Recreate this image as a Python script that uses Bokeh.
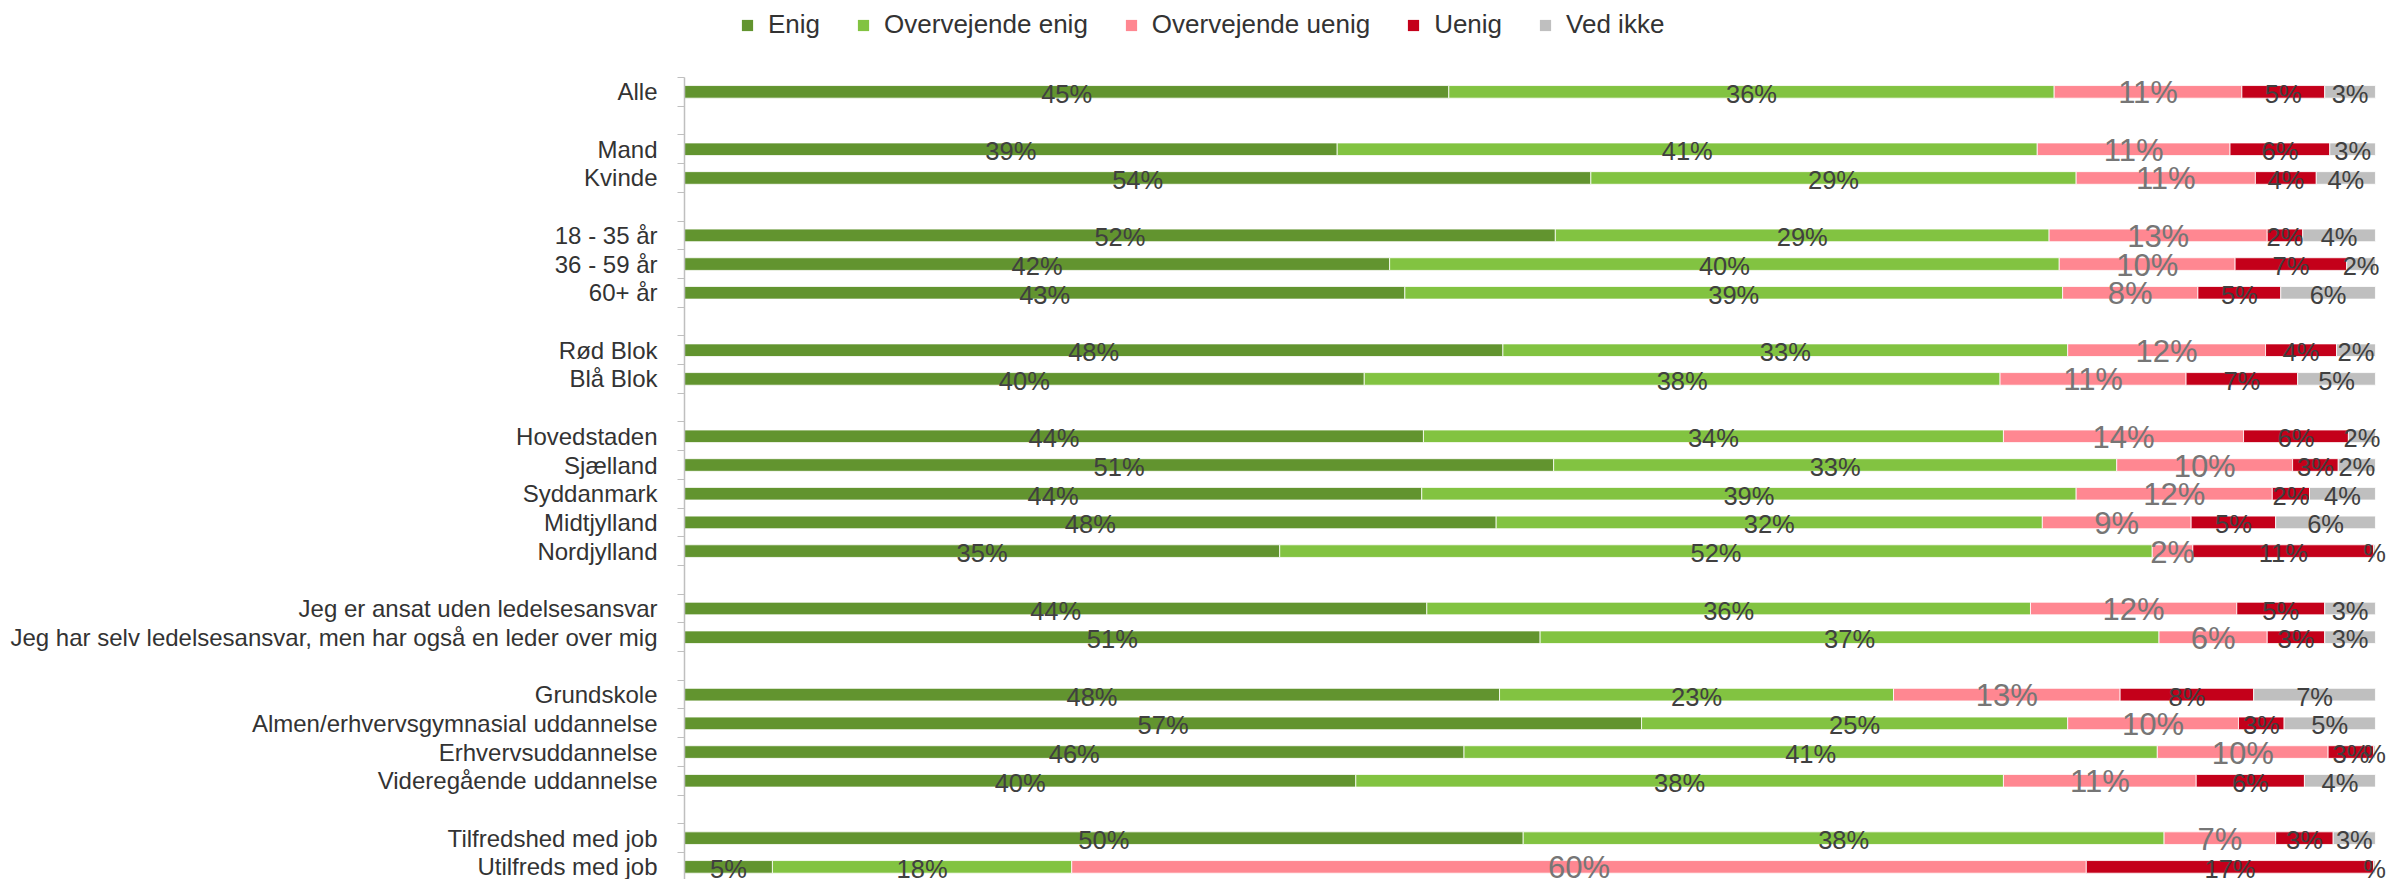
from bokeh.plotting import figure
from bokeh.layouts import column
from bokeh.models import Range1d, FixedTicker, Legend, LegendItem, ColumnDataSource
from bokeh.embed import file_html
from bokeh.resources import INLINE
from bokeh.core.properties import value

# ---------------- data ----------------
categories = [
    "Alle",
    "Mand", "Kvinde",
    "18 - 35 år", "36 - 59 år", "60+ år",
    "Rød Blok", "Blå Blok",
    "Hovedstaden", "Sjælland", "Syddanmark", "Midtjylland", "Nordjylland",
    "Jeg er ansat uden ledelsesansvar",
    "Jeg har selv ledelsesansvar, men har også en leder over mig",
    "Grundskole", "Almen/erhvervsgymnasial uddannelse", "Erhvervsuddannelse",
    "Videregående uddannelse",
    "Tilfredshed med job", "Utilfreds med job",
]
group_sizes = [1, 2, 3, 2, 5, 2, 4, 2]

series_names = ["Enig", "Overvejende enig", "Overvejende uenig", "Uenig", "Ved ikke"]

enig = [45.2, 38.6, 53.6, 51.5, 41.7, 42.6, 48.4, 40.2, 43.7, 51.4, 43.6, 48.0, 35.2,
        43.9, 50.6, 48.2, 56.6, 46.1, 39.7, 49.6, 5.2]
overvejende_enig = [35.8, 41.4, 28.7, 29.2, 39.6, 38.9, 33.4, 37.6, 34.3, 33.3, 38.7, 32.3, 51.6,
                    35.7, 36.6, 23.3, 25.2, 41.0, 38.3, 37.9, 17.7]
overvejende_uenig = [11.1, 11.4, 10.6, 12.9, 10.4, 8.0, 11.7, 11.0, 14.2, 10.4, 11.6, 8.8, 2.4,
                     12.2, 6.4, 13.4, 10.1, 10.1, 11.4, 6.6, 60.0]
uenig = [4.9, 5.9, 3.6, 2.1, 6.6, 4.9, 4.2, 6.6, 6.2, 2.7, 2.2, 5.0, 10.7,
         5.2, 3.4, 7.9, 2.7, 2.7, 6.4, 3.4, 17.0]
ved_ikke = [3.0, 2.7, 3.5, 4.3, 1.7, 5.6, 2.3, 4.6, 1.6, 2.2, 3.9, 5.9, 0.1,
            3.0, 3.0, 7.2, 5.4, 0.1, 4.2, 2.5, 0.1]

series_values = [enig, overvejende_enig, overvejende_uenig, uenig, ved_ikke]
colors = ["#62942f", "#82c341", "#ff8791", "#c4001a", "#bfbfbf"]

FONT = "Liberation Sans"

# ---------------- slot positions (one blank slot between groups) ----------------
ypos = []
s = 0
for g in group_sizes:
    for _ in range(g):
        ypos.append(s)
        s += 1
    s += 1
n_slots = s - 1

W = 2390
LEG_H = 77
MAIN_H = 879 - LEG_H
LEFT = 684

p = figure(
    width=W, height=MAIN_H,
    x_range=Range1d(0, 100.89),
    y_range=Range1d(27.44, -0.5),
    output_backend="svg", toolbar_location=None,
    x_axis_location=None,
    min_border_left=LEFT, min_border_right=0, min_border_top=0, min_border_bottom=0,
    outline_line_color=None,
)
p.grid.visible = False

def fmt(v):
    r = int(v + 0.5)
    return ("%d%%" % r) if r != 0 else "%"

sources = []
left = [0.0] * len(categories)
norm_x, norm_y, norm_t = [], [], []
ou_x, ou_y, ou_t = [], [], []
for j, vals in enumerate(series_values):
    right = [l + v for l, v in zip(left, vals)]
    src = ColumnDataSource(dict(y=ypos, left=left, right=right))
    sources.append(src)
    p.hbar(y="y", left="left", right="right", height=0.44, source=src,
           fill_color=colors[j], line_color="white", line_width=0.8)
    for l, rr, yy, v in zip(left, right, ypos, vals):
        if j == 2:
            ou_x.append((l + rr) / 2); ou_y.append(yy); ou_t.append(fmt(v))
        else:
            norm_x.append((l + rr) / 2); norm_y.append(yy); norm_t.append(fmt(v))
    left = right

p.text(x=norm_x, y=norm_y, text=norm_t, text_align="center", text_baseline="middle",
       text_font=value(FONT), text_font_size="25.5px", text_color="#404040", y_offset=2)
p.text(x=ou_x, y=ou_y, text=ou_t, text_align="center", text_baseline="middle",
       text_font=value(FONT), text_font_size="31px", text_color="#767676", y_offset=1)

# ---------------- axis ----------------
ax = p.yaxis[0]
ax.ticker = FixedTicker(ticks=ypos, minor_ticks=[b - 0.5 for b in range(n_slots + 1)])
ax.major_label_overrides = {y: c for y, c in zip(ypos, categories)}
ax.major_tick_out = 0
ax.major_tick_in = 0
ax.minor_tick_out = 7
ax.minor_tick_in = 0
ax.minor_tick_line_color = "#bfbfbf"
ax.axis_line_color = "#bfbfbf"
ax.axis_line_width = 1.5
ax.major_label_standoff = 20
ax.major_label_text_font = FONT
ax.major_label_text_font_size = "24px"
ax.major_label_text_color = "#333333"

# ---------------- legend (own strip above the chart) ----------------
pl = figure(
    width=W, height=LEG_H, x_range=Range1d(0, 100), y_range=Range1d(1000, 1001),
    output_backend="svg", toolbar_location=None,
    x_axis_location=None, y_axis_location=None,
    min_border_left=LEFT, min_border_right=0, min_border_top=0, min_border_bottom=0,
    outline_line_color=None,
)
pl.grid.visible = False
leg_renderers = [pl.hbar(y="y", left="left", right="right", height=0.44, source=src,
                         fill_color=c, line_color=None)
                 for src, c in zip(sources, colors)]
legend = Legend(
    items=[LegendItem(label=n, renderers=[r]) for n, r in zip(series_names, leg_renderers)],
    orientation="horizontal", location=(56, 37),
    label_text_font=FONT, label_text_font_size="26px", label_text_color="#333333",
    glyph_width=14, glyph_height=14, label_standoff=14, spacing=36,
    padding=0, margin=0, border_line_color=None, background_fill_alpha=0,
)
pl.add_layout(legend, "center")

layout = column(pl, p, spacing=0)
open("out.html", "w").write(file_html(layout, INLINE))
